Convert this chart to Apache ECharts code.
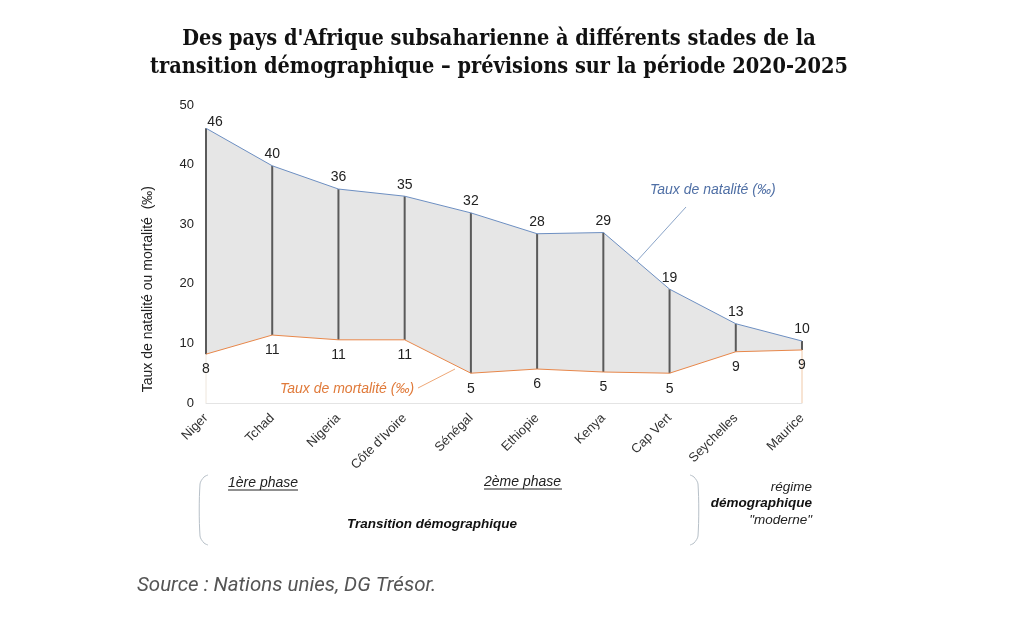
<!DOCTYPE html>
<html><head><meta charset="utf-8">
<script src="https://cdn.jsdelivr.net/npm/echarts@6/dist/echarts.min.js"></script>
<style>html,body{margin:0;padding:0;background:#fff}#c{width:1027px;height:642px}</style>
</head><body><div id="c"></div>
<script>
const categories = ['Niger','Tchad','Nigeria',"Côte d'Ivoire",'Sénégal','Ethiopie','Kenya','Cap Vert','Seychelles','Maurice'];
const natalite = [46.1,39.8,35.9,34.7,31.9,28.4,28.6,19.1,13.3,10.4];
const mortalite = [8.2,11.4,10.6,10.6,5.0,5.7,5.2,5.0,8.6,8.9];
const yTicks = [0,10,20,30,40,50];

const chart = echarts.init(document.getElementById('c'));
const gap = natalite.map((v,i)=>+(v-mortalite[i]).toFixed(2));
const font = '"Liberation Sans", Arial, sans-serif';

function brace(x, dir){
  return {type:'polyline',shape:{points:[[x,475],[x-4*dir,477],[x-8*dir,484],[x-8*dir,536],[x-4*dir,543],[x,545]],smooth:0.3},
    style:{stroke:'#b7c0c8',fill:null,lineWidth:1}};
}

chart.setOption({
  animation:false,
  backgroundColor:'#fff',
  textStyle:{fontFamily:font},
  grid:{left:206,right:225,top:105,bottom:239},
  xAxis:{type:'category',data:categories,boundaryGap:false,
    axisLine:{show:true,lineStyle:{color:'#e4e4e4'}},axisTick:{show:false},
    axisLabel:{rotate:45,fontSize:13,color:'#333',margin:13,fontFamily:font}},
  yAxis:{type:'value',min:yTicks[0],max:yTicks[yTicks.length-1],interval:10,
    splitLine:{show:false},axisLine:{show:false},axisTick:{show:false},
    axisLabel:{fontSize:13,color:'#222',margin:12,fontFamily:font}},
  series:[
    {type:'line',stack:'band',data:mortalite,symbol:'none',lineStyle:{width:0},areaStyle:{opacity:0},silent:true},
    {type:'line',stack:'band',data:gap,symbol:'none',lineStyle:{width:0},areaStyle:{color:'#e6e6e6',opacity:1},silent:true},
    {type:'custom',data:categories.map((c,i)=>[i,mortalite[i],natalite[i]]),z:3,
      renderItem:function(params,api){
        const i=api.value(0);
        const p1=api.coord([i,api.value(1)]);
        const p2=api.coord([i,api.value(2)]);
        const children=[{type:'line',shape:{x1:p1[0],y1:p1[1],x2:p2[0],y2:p2[1]},style:{stroke:'#5a5a5a',lineWidth:2}}];
        if(i===0||i===categories.length-1){
          const p0=api.coord([i,0]);
          children.push({type:'line',shape:{x1:p0[0],y1:p0[1],x2:p1[0],y2:p1[1]},style:{stroke:i===0?'#eee6dc':'#f0c9a8',lineWidth:1}});
        }
        return {type:'group',children:children};
      }},
    {type:'line',name:'natalite',data:natalite.map((v,i)=>i===0?{value:v,label:{offset:[9,5]}}:v),
      symbol:'circle',symbolSize:1,showSymbol:true,itemStyle:{color:'rgba(0,0,0,0)'},z:4,
      lineStyle:{color:'#6d8fc2',width:1},
      label:{show:true,position:'top',distance:4,fontSize:14,color:'#222',fontFamily:font,formatter:p=>Math.round(p.value)}},
    {type:'line',name:'mortalite',data:mortalite,
      symbol:'circle',symbolSize:1,showSymbol:true,itemStyle:{color:'rgba(0,0,0,0)'},z:4,
      lineStyle:{color:'#e8874a',width:1},
      label:{show:true,position:'bottom',distance:8,fontSize:14,color:'#222',fontFamily:font,formatter:p=>Math.round(p.value)}}
  ],
  graphic:[
    {type:'text',x:499,y:25,style:{text:"Des pays d'Afrique subsaharienne à différents stades de la\ntransition démographique – prévisions sur la période 2020-2025",
      font:'bold 21.5px "DejaVu Serif Condensed","DejaVu Serif",serif',lineHeight:28,fill:'#111',textAlign:'center',textVerticalAlign:'top'}},
    {type:'text',x:141,y:186,rotation:Math.PI/2,style:{text:'Taux de natalité ou mortalité  (‰)',font:'14px '+font,fill:'#222',textAlign:'right',textVerticalAlign:'top'}},
    {type:'text',x:650,y:183,style:{text:'Taux de natalité (‰)',font:'italic 14px '+font,fill:'#4f6fa5'}},
    {type:'line',shape:{x1:686,y1:207,x2:636,y2:262},style:{stroke:'#8aa4c8',lineWidth:1}},
    {type:'text',x:280,y:382,style:{text:'Taux de mortalité (‰)',font:'italic 14px '+font,fill:'#e07a3a'}},
    {type:'line',shape:{x1:418,y1:388,x2:455,y2:369},style:{stroke:'#efa877',lineWidth:1}},
    brace(208,1),
    brace(690,-1),
    {type:'text',x:228,y:476,style:{text:'1ère phase',font:'italic 14px '+font,fill:'#222'}},
    {type:'line',shape:{x1:228,y1:490,x2:298,y2:490},style:{stroke:'#222',lineWidth:1}},
    {type:'text',x:484,y:475,style:{text:'2ème phase',font:'italic 14px '+font,fill:'#222'}},
    {type:'line',shape:{x1:484,y1:489,x2:562,y2:489},style:{stroke:'#222',lineWidth:1}},
    {type:'text',x:432,y:524,style:{text:'Transition démographique',font:'italic bold 13.5px '+font,fill:'#111',textAlign:'center',textVerticalAlign:'middle'}},
    {type:'text',x:812,y:487,style:{text:'régime',font:'italic 13.5px '+font,fill:'#222',textAlign:'right',textVerticalAlign:'middle'}},
    {type:'text',x:812,y:503,style:{text:'démographique',font:'italic bold 13.5px '+font,fill:'#111',textAlign:'right',textVerticalAlign:'middle'}},
    {type:'text',x:812,y:520,style:{text:'"moderne"',font:'italic 13.5px '+font,fill:'#222',textAlign:'right',textVerticalAlign:'middle'}},
    {type:'text',x:137,y:586,style:{text:'Source : Nations unies, DG Trésor.',font:'italic 20.5px Roboto, '+font,fill:'#555',textVerticalAlign:'middle'}}
  ]
});
</script></body></html>
